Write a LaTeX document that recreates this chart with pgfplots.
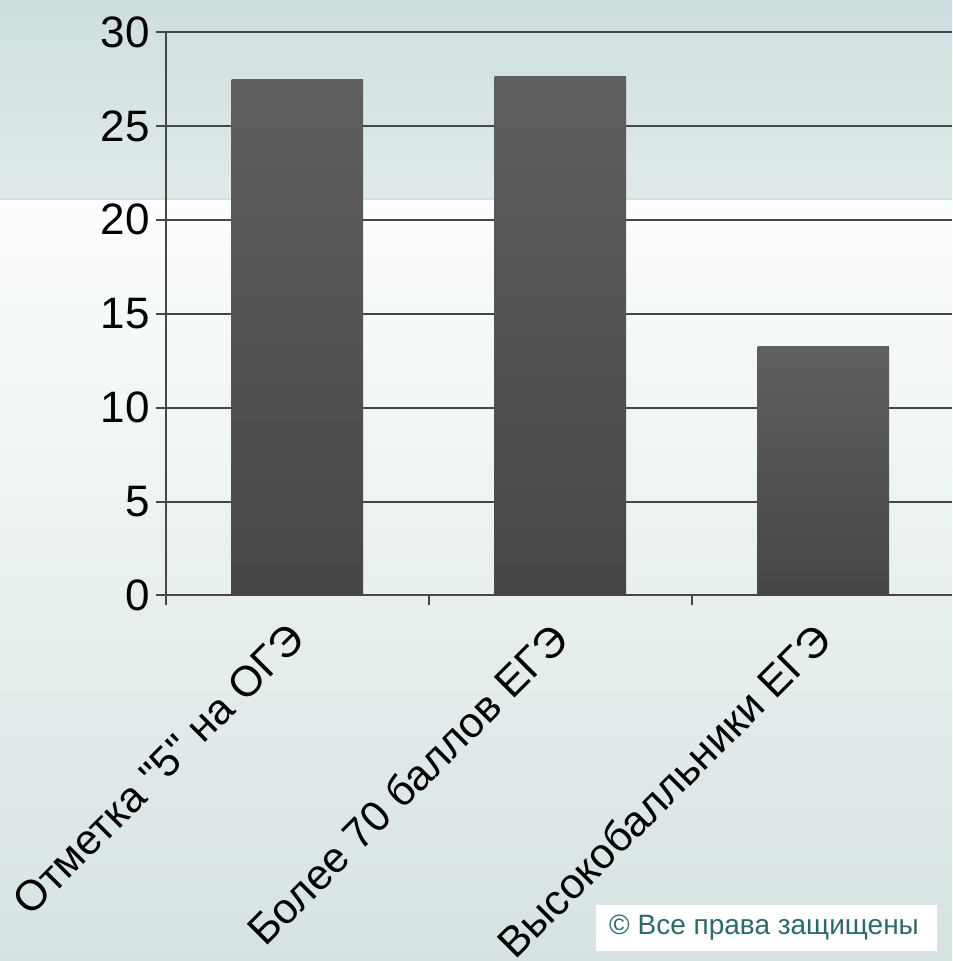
\documentclass[border=0pt]{standalone}
\usepackage{fontspec}
\setmainfont{Liberation Sans}[Ligatures=TeXOff]
\usepackage{pgfplots}
\pgfplotsset{compat=1.18}

\definecolor{bgtopA}{HTML}{CEDEDE}
\definecolor{bgtopB}{HTML}{E0EAEA}
\definecolor{bgline}{HTML}{CCE0E6}
\definecolor{bglowA}{HTML}{FCFDFD}
\definecolor{bglowB}{HTML}{D6E2E2}
\definecolor{bartop}{HTML}{5F5F5F}
\definecolor{barbot}{HTML}{464646}
\definecolor{gridc}{HTML}{474747}
\definecolor{copyc}{HTML}{2E6A6A}

\begin{document}
\begin{tikzpicture}
% page 952 x 961 px, 1 px = 0.5pt
\useasboundingbox (0,0) rectangle (476pt,480.5pt);
\shade[top color=bgtopA, bottom color=bgtopB] (0,381.5pt) rectangle (476pt,480.5pt);
\fill[bgline] (0,380pt) rectangle (476pt,381.5pt);
\shade[top color=bglowA, bottom color=bglowB] (0,0) rectangle (476pt,380pt);

\begin{axis}[
  at={(83pt,182.75pt)}, anchor=south west,
  scale only axis, width=393pt, height=281.75pt,
  xmin=-0.5, xmax=2.489, ymin=0, ymax=30,
  axis lines*=left,
  axis line style={gridc, line width=1pt},
  ytick={0,5,...,30},
  ymajorgrids, grid style={gridc, line width=1pt},
  % tick marks sit between the categories
  xtick={-0.5,0.5,1.5,2.5}, xticklabels={},
  extra x ticks={0,1,2},
  extra x tick labels={Отметка "5" на ОГЭ, Более 70 баллов ЕГЭ, Высокобалльники ЕГЭ},
  extra x tick style={
    tick style={draw=none},
    xticklabel style={rotate=45, anchor=north east, xshift=-9.3pt, yshift=-1pt,
                      font=\fontsize{21.3}{25}\selectfont},
  },
  major tick length=5pt,
  tick align=outside,
  tick style={gridc, line width=1pt},
  /pgf/number format/assume math mode=true,
  tick label style={font=\fontsize{22}{26}\selectfont, inner sep=0pt},
  yticklabel style={xshift=-3pt},
]
\addplot[ybar, bar width=0.5, bar shift=0pt, draw=none, top color=bartop, bottom color=barbot]
  coordinates {(0,27.45)};
\addplot[ybar, bar width=0.5, bar shift=0pt, draw=none, top color=bartop, bottom color=barbot]
  coordinates {(1,27.65)};
\addplot[ybar, bar width=0.5, bar shift=0pt, draw=none, top color=bartop, bottom color=barbot]
  coordinates {(2,13.25)};
\end{axis}

\fill[white] (298pt,5pt) rectangle (468.5pt,28pt);
\node[text=copyc, font=\fontsize{14}{16}\selectfont] at (382pt,16.5pt) {© Все права защищены};
\end{tikzpicture}
\end{document}
